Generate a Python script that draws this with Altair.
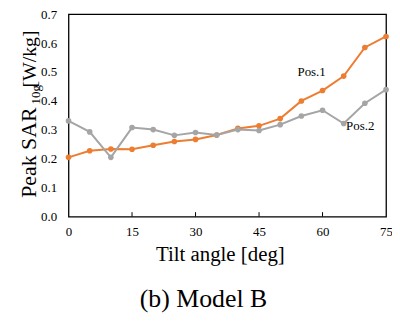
import altair as alt
import pandas as pd

angles = [0, 5, 10, 15, 20, 25, 30, 35, 40, 45, 50, 55, 60, 65, 70, 75]
pos1 = [0.205, 0.228, 0.234, 0.233, 0.247, 0.260, 0.267, 0.282, 0.305, 0.314,
        0.339, 0.400, 0.436, 0.486, 0.585, 0.623]
pos2 = [0.331, 0.293, 0.205, 0.308, 0.301, 0.281, 0.291, 0.282, 0.301, 0.298,
        0.318, 0.348, 0.368, 0.322, 0.392, 0.439]
x_ticks = [0, 15, 30, 45, 60, 75]
inner_ticks = [15, 30, 45, 60]
y_ticks = [0.0, 0.1, 0.2, 0.3, 0.4, 0.5, 0.6, 0.7]

FONT = "Liberation Serif"
W, H = 320, 204

df1 = pd.DataFrame({"angle": angles, "sar": pos1})
df2 = pd.DataFrame({"angle": angles, "sar": pos2})

xs = alt.Scale(domain=[0, 75], nice=False, zero=False)
ys = alt.Scale(domain=[0, 0.7], nice=False)

xax = alt.Axis(values=x_ticks, title=None, ticks=False, grid=False, domain=False,
               labelFont=FONT, labelFontSize=13, labelColor="black", labelPadding=9,
               labelFlush=False)
yax = alt.Axis(values=y_ticks, format=".1f", title=None, ticks=False, grid=False,
               domain=False, labelFont=FONT, labelFontSize=13, labelColor="black",
               labelPadding=12)

def series(df, color):
    base = alt.Chart(df).encode(
        x=alt.X("angle:Q", scale=xs, axis=xax),
        y=alt.Y("sar:Q", scale=ys, axis=yax),
    )
    return base.mark_line(color=color, strokeWidth=2) + base.mark_point(
        color=color, filled=True, size=32, opacity=1)

orange = series(df1, "#ED7D31")
gray = series(df2, "#A5A5A5")

ticks = alt.Chart(pd.DataFrame({"t": inner_ticks})).mark_rule(
    color="black", strokeWidth=1).encode(
    x=alt.X("t:Q", scale=xs), y=alt.value(H), y2=alt.value(H - 4.5))

def label(text, x, y, size, align="center", angle=0, baseline="alphabetic"):
    return alt.Chart(pd.DataFrame({"s": [text]})).mark_text(
        font=FONT, fontSize=size, color="black", align=align, angle=angle,
        baseline=baseline).encode(text="s:N", x=alt.value(x), y=alt.value(y))

series_labels = ["Pos.1", "Pos.2"]
texts = [
    label(series_labels[0], 245, 62.5, 13),
    label(series_labels[1], 294, 117, 13),
    label("Peak SAR", -32.5, 185, 22, align="left", angle=270),
    label("10g", -28.5, 91, 13, align="left", angle=270),
    label("[W/kg]", -32.5, 74, 20, align="left", angle=270),
    label("Tilt angle [deg]", 153, 249, 21),
    label("(b) Model B", 136, 295, 26),
]

chart = alt.layer(orange, gray, ticks, *texts).properties(
    width=W, height=H,
    autosize=alt.AutoSizeParams(type="none"),
    padding={"left": 61, "top": 5, "right": 6, "bottom": 110},
).configure_view(stroke="black", strokeWidth=1.3)

chart.save("out.html", embed_options={"renderer": "svg", "actions": False})
